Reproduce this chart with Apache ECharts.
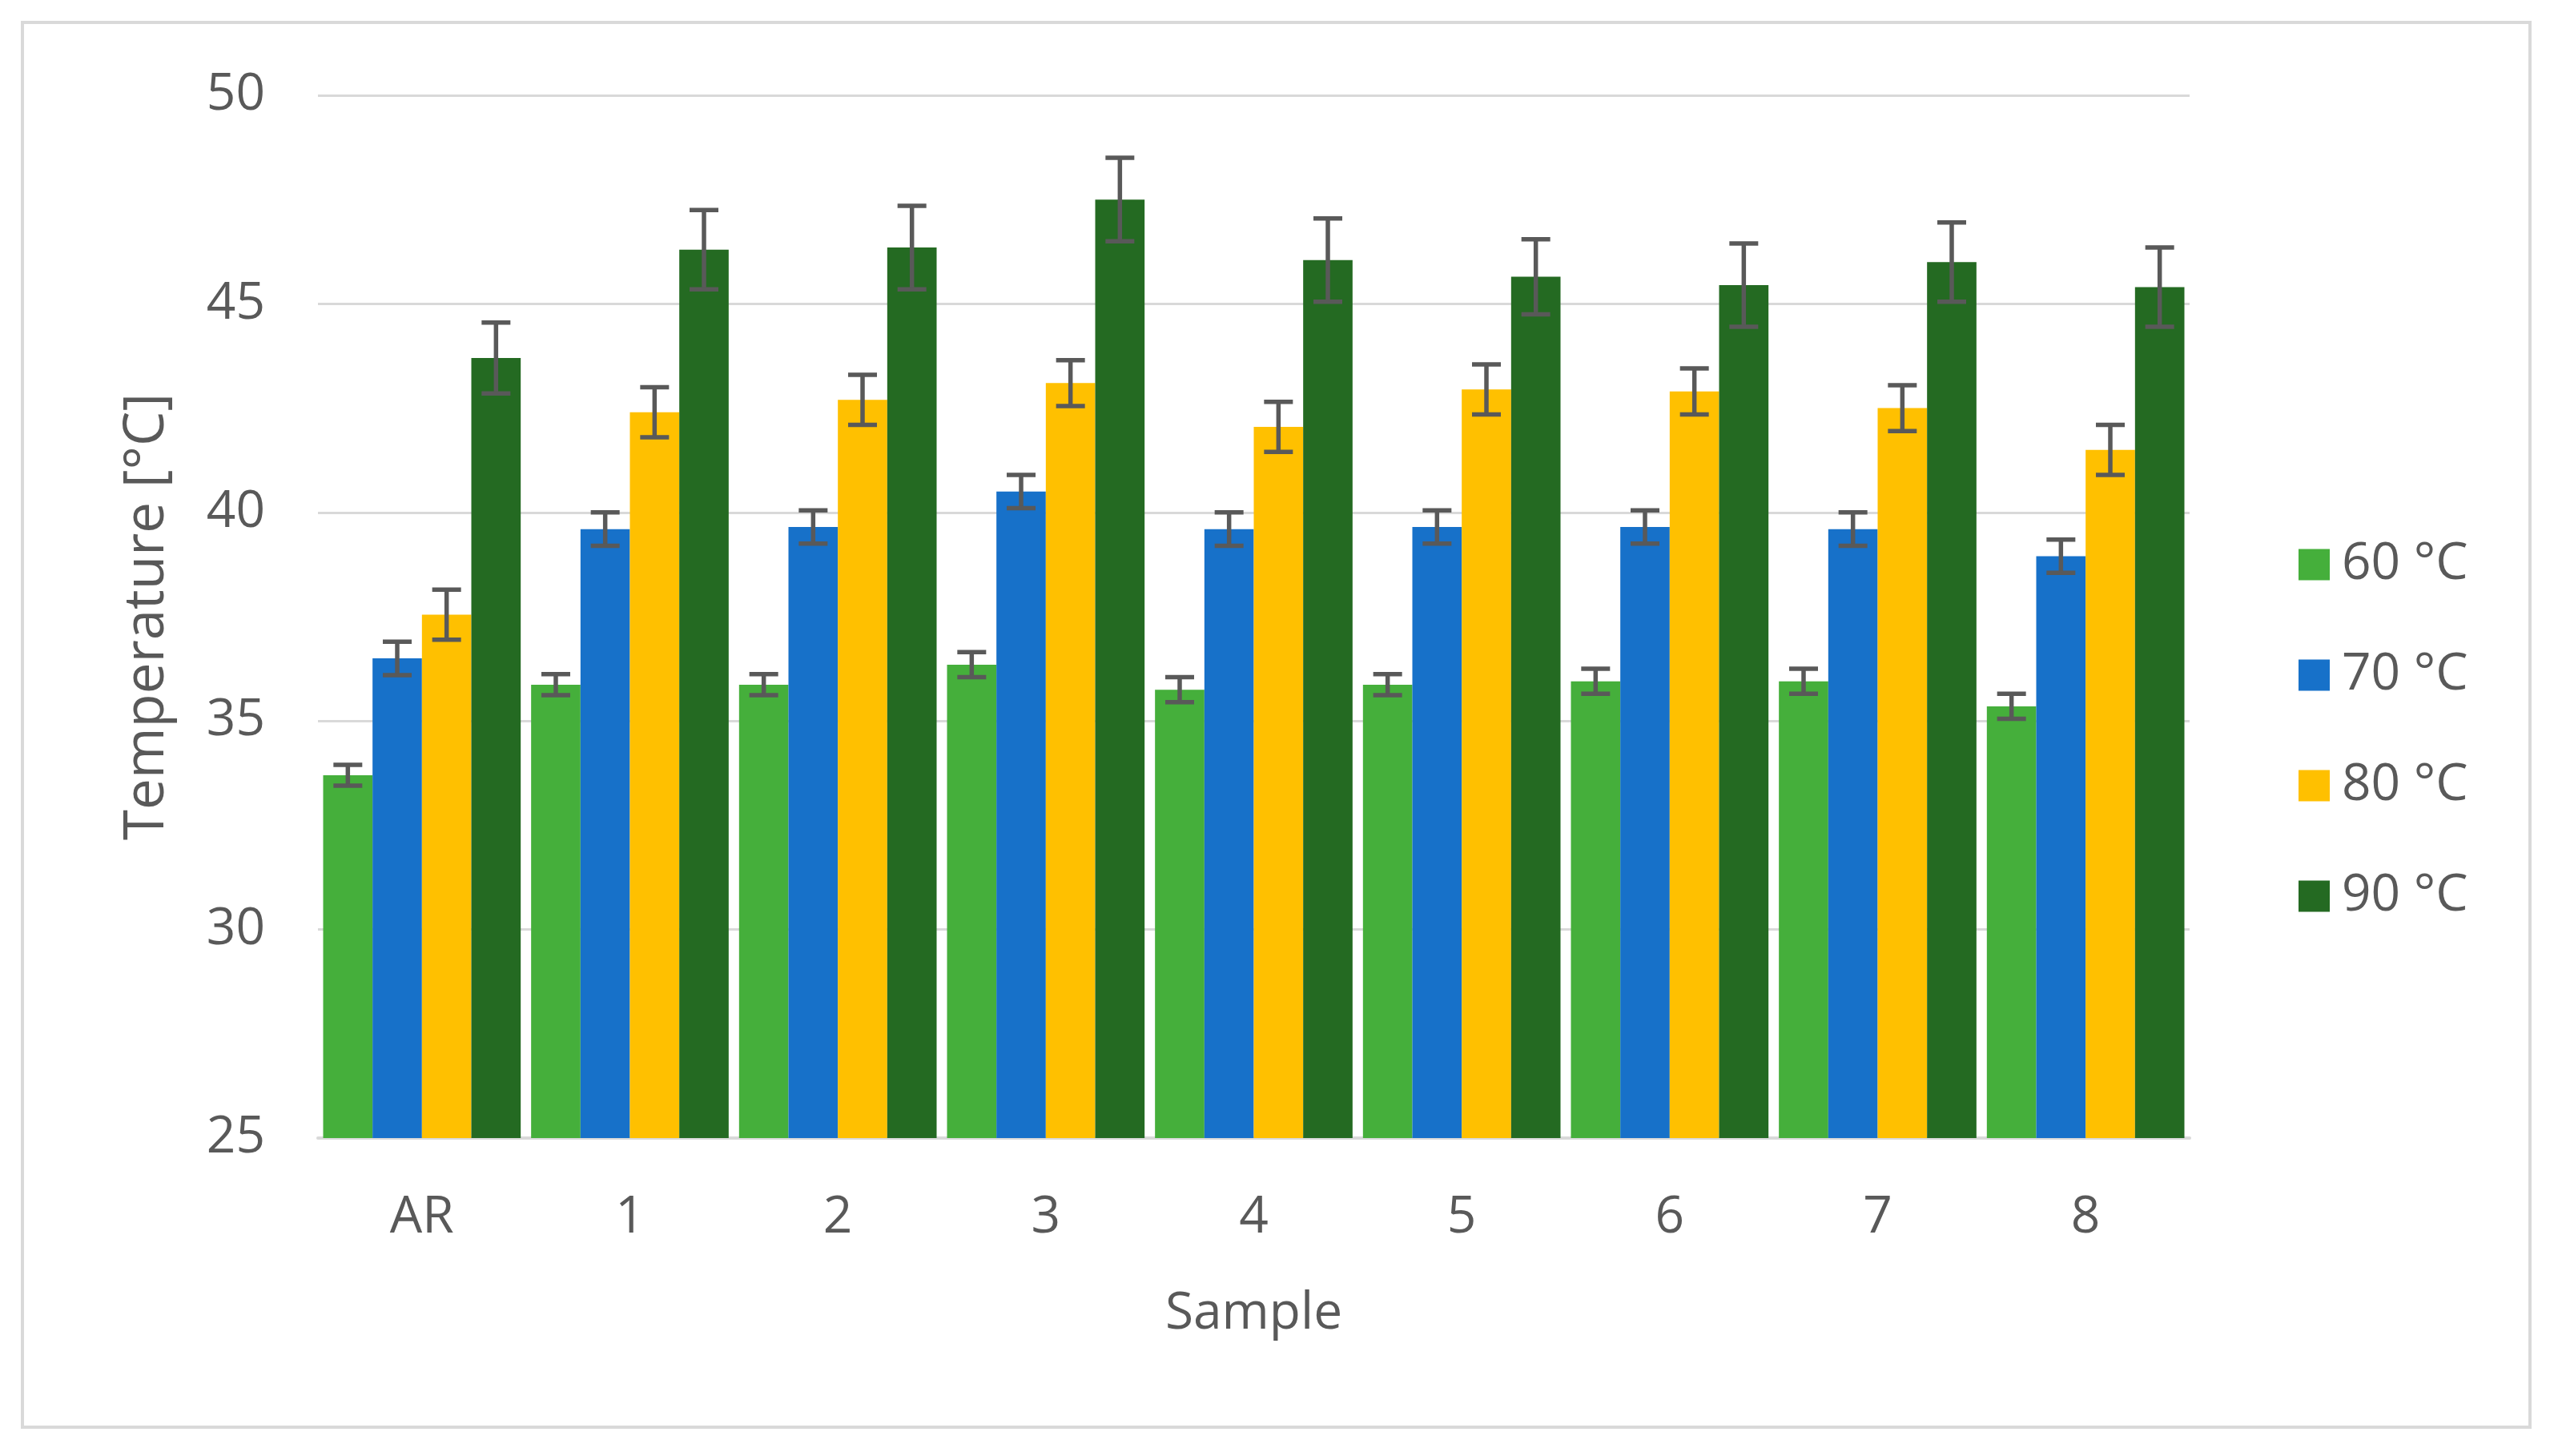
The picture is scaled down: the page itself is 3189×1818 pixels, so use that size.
<!DOCTYPE html>
<html>
<head>
<meta charset="utf-8">
<script src="https://cdn.jsdelivr.net/npm/echarts@6/dist/echarts.min.js"></script>
<style>
html,body{margin:0;padding:0;background:#fff;}
#chart{width:3189px;height:1818px;}
</style>
</head>
<body>
<div id="chart"></div>
<script>
var categories = ['AR', '1', '2', '3', '4', '5', '6', '7', '8'];
var seriesNames = ['60 °C', '70 °C', '80 °C', '90 °C'];
var vals60 = [33.7, 35.87, 35.87, 36.35, 35.75, 35.87, 35.95, 35.95, 35.35];
var vals70 = [36.5, 39.6, 39.65, 40.5, 39.6, 39.65, 39.65, 39.6, 38.95];
var vals80 = [37.55, 42.4, 42.7, 43.1, 42.05, 42.95, 42.9, 42.5, 41.5];
var vals90 = [43.7, 46.3, 46.35, 47.5, 46.05, 45.65, 45.45, 46.0, 45.4];
var err60 = [0.25, 0.25, 0.25, 0.3, 0.3, 0.25, 0.3, 0.3, 0.3];
var err70 = [0.4, 0.4, 0.4, 0.4, 0.4, 0.4, 0.4, 0.4, 0.4];
var err80 = [0.6, 0.6, 0.6, 0.55, 0.6, 0.6, 0.55, 0.55, 0.6];
var err90 = [0.85, 0.95, 1.0, 1.0, 1.0, 0.9, 1.0, 0.95, 0.95];
var yTicks = [25, 30, 35, 40, 45, 50];

var colors = ['#45AF3B', '#1771C9', '#FFC000', '#246A22'];
var allVals = [vals60, vals70, vals80, vals90];
var allErr = [err60, err70, err80, err90];
var FONT = '"Open Sans", "Noto Sans", sans-serif';
var TXT = '#595959';
var FS = 64;
var CAT_GAP = 0.05;

var chart = echarts.init(document.getElementById('chart'), null, {renderer: 'canvas'});

var series = [];
allVals.forEach(function (v, i) {
  series.push({
    type: 'bar',
    name: seriesNames[i],
    data: v,
    barGap: '0%',
    barCategoryGap: (CAT_GAP * 100) + '%',
    itemStyle: {color: colors[i]},
    z: 2
  });
});
allVals.forEach(function (v, i) {
  var e = allErr[i];
  series.push({
    type: 'custom',
    name: 'err' + i,
    z: 10,
    silent: true,
    data: v.map(function (val, k) { return [k, val - e[k], val + e[k]]; }),
    encode: {x: 0, y: [1, 2]},
    renderItem: function (params, api) {
      var k = api.value(0);
      var lo = api.coord([k, api.value(1)]);
      var hi = api.coord([k, api.value(2)]);
      var band = api.size([1, 0])[0];
      var group = band * (1 - CAT_GAP);
      var bw = group / 4;
      var x = lo[0] - group / 2 + (i + 0.5) * bw;
      var cap = 18;
      var st = {stroke: '#595959', lineWidth: 5.5};
      return {
        type: 'group',
        children: [
          {type: 'line', shape: {x1: x, y1: lo[1], x2: x, y2: hi[1]}, style: st},
          {type: 'line', shape: {x1: x - cap, y1: lo[1], x2: x + cap, y2: lo[1]}, style: st},
          {type: 'line', shape: {x1: x - cap, y1: hi[1], x2: x + cap, y2: hi[1]}, style: st}
        ]
      };
    }
  });
});

var option = {
  backgroundColor: '#ffffff',
  animation: false,
  textStyle: {fontFamily: FONT},
  graphic: [{
    type: 'rect',
    shape: {x: 28, y: 28, width: 3131, height: 1754},
    style: {fill: 'none', stroke: '#D9D9D9', lineWidth: 4},
    silent: true,
    z: -1
  }],
  grid: {left: 397, right: 455, top: 119, bottom: 397, containLabel: false},
  legend: {
    orient: 'vertical',
    left: 2865,
    top: 668,
    itemWidth: 39,
    itemHeight: 39,
    itemGap: 74,
    icon: 'rect',
    data: seriesNames,
    textStyle: {color: TXT, fontSize: FS, fontFamily: FONT, lineHeight: 64, padding: [0, 0, 0, 10]}
  },
  xAxis: {
    type: 'category',
    data: categories,
    name: 'Sample',
    nameLocation: 'middle',
    nameGap: 188,
    nameTextStyle: {color: TXT, fontSize: FS, fontFamily: FONT},
    axisLine: {show: true, lineStyle: {color: '#D9D9D9', width: 4}},
    axisTick: {show: false},
    axisLabel: {color: TXT, fontSize: FS, fontFamily: FONT, margin: 68}
  },
  yAxis: {
    type: 'value',
    min: 25,
    max: 50,
    interval: 5,
    name: 'Temperature [°C]',
    nameLocation: 'middle',
    nameGap: 178,
    nameTextStyle: {color: TXT, fontSize: 69, fontFamily: FONT},
    axisLine: {show: false},
    axisTick: {show: false},
    splitLine: {lineStyle: {color: '#D9D9D9', width: 3}},
    axisLabel: {
      color: TXT, fontSize: FS, fontFamily: FONT, margin: 66,
      formatter: function (v) { return yTicks.indexOf(v) >= 0 ? String(v) : ''; }
    }
  },
  series: series
};
chart.setOption(option);
</script>
</body>
</html>
